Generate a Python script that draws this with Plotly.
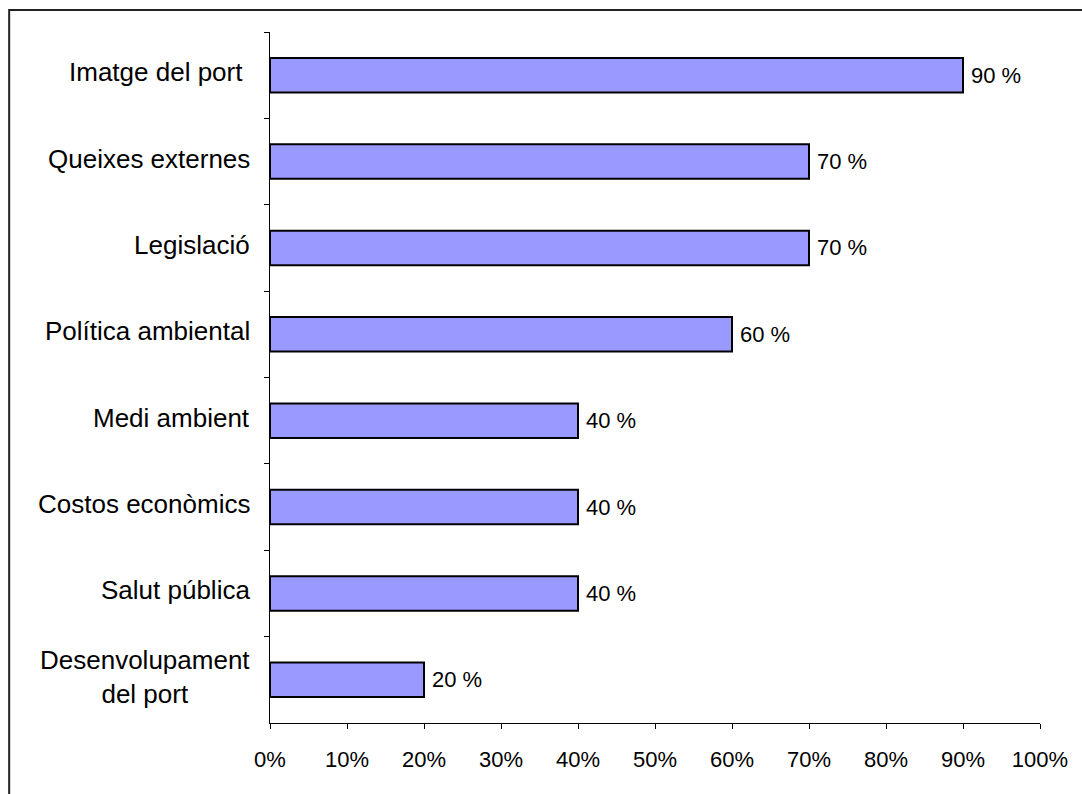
import plotly.graph_objects as go

# Motius per a la implantació del sistema de gestió ambiental
categories = [
    "Imatge del port\u00a0",
    "Queixes externes",
    "Legislació",
    "Política ambiental",
    "Medi ambient",
    "Costos econòmics",
    "Salut pública",
    "Desenvolupament<br>del port",
]
values = [90, 70, 70, 60, 40, 40, 40, 20]
value_labels = [f"{v} %" for v in values]
x_ticks = [0, 10, 20, 30, 40, 50, 60, 70, 80, 90, 100]
x_tick_labels = [f"{t}%" for t in x_ticks]

FONT = "Liberation Sans, Arial, sans-serif"
cat_ids = list(range(len(categories)))

fig = go.Figure(
    go.Bar(
        y=cat_ids,
        x=values,
        orientation="h",
        marker=dict(color="#9999FF", line=dict(color="black", width=2)),
        width=0.4,
        hoverinfo="x",
    )
)

# Category labels, right-aligned against the axis with centred line breaks
for i, cat in zip(cat_ids, categories):
    fig.add_annotation(
        x=0, xref="paper", y=i, yref="y",
        text=cat, showarrow=False,
        xanchor="right", yanchor="middle", align="center",
        xshift=-18, yshift=3,
        font=dict(family=FONT, size=26, color="black"),
    )

# Value labels just past the end of each bar
for i, v, lab in zip(cat_ids, values, value_labels):
    fig.add_annotation(
        x=v, xref="x", y=i, yref="y",
        text=lab, showarrow=False,
        xanchor="left", yanchor="middle",
        xshift=6,
        font=dict(family=FONT, size=22, color="black"),
    )

# Outer frame
fig.add_shape(
    type="rect", xref="paper", yref="paper",
    x0=(9 - 270) / 770.5, x1=1.08, y0=-0.15, y1=(723 - 10) / 691,
    line=dict(color="#222222", width=2), fillcolor="rgba(0,0,0,0)",
    layer="below",
)

fig.update_layout(
    width=1082, height=794,
    margin=dict(l=270, r=41.5, t=32, b=71),
    paper_bgcolor="white", plot_bgcolor="white",
    showlegend=False,
    font=dict(family=FONT, color="black"),
    xaxis=dict(
        range=[0, 100], tickmode="array",
        tickvals=x_ticks, ticktext=x_tick_labels,
        showgrid=False, zeroline=False,
        showline=True, linecolor="black", linewidth=1,
        ticks="outside", ticklen=5, tickcolor="black", tickwidth=1,
        ticklabelstandoff=12,
        tickfont=dict(family=FONT, size=22, color="black"),
    ),
    yaxis=dict(
        type="category", categoryorder="array", categoryarray=cat_ids,
        range=[len(categories) - 0.5, -0.5],
        showticklabels=False, tickson="boundaries",
        showgrid=False, zeroline=False,
        showline=True, linecolor="black", linewidth=1,
        ticks="outside", ticklen=5, tickcolor="black", tickwidth=1,
    ),
)

fig.write_html("out.html")
